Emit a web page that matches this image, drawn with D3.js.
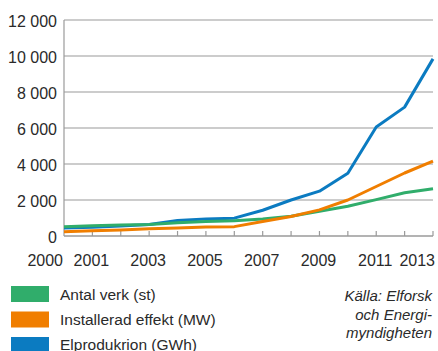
<!DOCTYPE html>
<html>
<head>
<meta charset="utf-8">
<script src="https://cdn.jsdelivr.net/npm/d3@7/dist/d3.min.js"></script>
<style>
  html, body { margin: 0; padding: 0; background: #fff; }
  svg { display: block; }
  text { font-family: "Liberation Sans", Arial, sans-serif; fill: #2a2a2a; }
</style>
</head>
<body>
<svg id="chart" width="438" height="351"></svg>
<script>
const years = [2000,2001,2002,2003,2004,2005,2006,2007,2008,2009,2010,2011,2012,2013];
const antalVerk = [520,570,610,640,740,810,850,950,1100,1370,1650,2020,2400,2630];
const installeradEffekt = [230,290,340,400,440,500,520,800,1080,1450,2000,2750,3500,4160];
const elproduktion = [440,480,560,640,860,940,990,1430,2000,2490,3490,6060,7160,9840];
const yTicks = [0,2000,4000,6000,8000,10000,12000];
const xLabelYears = [2000,2001,2003,2005,2007,2009,2011,2013];
const legendLabels = ["Antal verk (st)", "Installerad effekt (MW)", "Elprodukrion (GWh)"];
const sourceLines = ["Källa: Elforsk", "och Energi-", "myndigheten"];

const colors = { green: "#30ad6b", orange: "#f07e00", blue: "#0b7bc1" };

const svg = d3.select("#chart");
const x = d3.scaleLinear().domain([2000, 2013]).range([64, 433]);
const y = d3.scaleLinear().domain([0, 12000]).range([236, 20]);
const fmt = d3.formatLocale({decimal: ",", thousands: " ", grouping: [3], currency: ["", ""]}).format(",d");

// gridlines
svg.append("g").selectAll("line").data(yTicks.filter(d => d > 0)).join("line")
  .attr("x1", x(2000)).attr("x2", x(2013))
  .attr("y1", d => y(d)).attr("y2", d => y(d))
  .attr("stroke", "#9a9a9a").attr("stroke-width", 1.2);

// y axis labels
svg.append("g").selectAll("text").data(yTicks).join("text")
  .attr("x", x(2000) - 7).attr("y", d => y(d) + 7)
  .attr("text-anchor", "end").attr("font-size", 16)
  .text(d => fmt(d));

// axis lines
svg.append("line").attr("x1", x(2000)).attr("x2", x(2000)).attr("y1", y(12000)).attr("y2", y(0))
  .attr("stroke", "#9a9a9a").attr("stroke-width", 1.2);
svg.append("line").attr("x1", x(2000)).attr("x2", x(2013)).attr("y1", y(0)).attr("y2", y(0))
  .attr("stroke", "#9a9a9a").attr("stroke-width", 1.5);

// bottom ticks
svg.append("g").selectAll("line").data(years.slice(1)).join("line")
  .attr("x1", d => x(d)).attr("x2", d => x(d))
  .attr("y1", y(0)).attr("y2", y(0) - 5)
  .attr("stroke", "#9a9a9a").attr("stroke-width", 1.2);

// x labels
svg.append("g").selectAll("text").data(xLabelYears).join("text")
  .attr("x", d => d === 2000 ? x(d) - 1 : d === 2013 ? x(d) + 2 : x(d) - 1)
  .attr("y", 266)
  .attr("text-anchor", d => (d === 2000 || d === 2013) ? "end" : "middle")
  .attr("font-size", 16)
  .text(d => d);

// lines
const line = d3.line().x((d, i) => x(years[i])).y(d => y(d));
const series = [
  { values: elproduktion, color: colors.blue },
  { values: antalVerk, color: colors.green },
  { values: installeradEffekt, color: colors.orange }
];
svg.append("g").selectAll("path").data(series).join("path")
  .attr("d", d => line(d.values))
  .attr("fill", "none").attr("stroke", d => d.color)
  .attr("stroke-width", 3).attr("stroke-linejoin", "round");

// legend
const legendColors = [colors.green, colors.orange, colors.blue];
const lg = svg.append("g");
lg.selectAll("rect").data(legendLabels).join("rect")
  .attr("x", 11).attr("y", (d, i) => 286 + i * 25.5)
  .attr("width", 38).attr("height", 16)
  .attr("fill", (d, i) => legendColors[i]);
lg.selectAll("text").data(legendLabels).join("text")
  .attr("x", 60).attr("y", (d, i) => 300 + i * 25)
  .attr("font-size", 15.5)
  .text(d => d);

// source
svg.append("g").selectAll("text").data(sourceLines).join("text")
  .attr("x", 432).attr("y", (d, i) => [301, 320, 338][i])
  .attr("text-anchor", "end").attr("font-size", 15).attr("font-style", "italic")
  .text(d => d);
</script>
</body>
</html>
